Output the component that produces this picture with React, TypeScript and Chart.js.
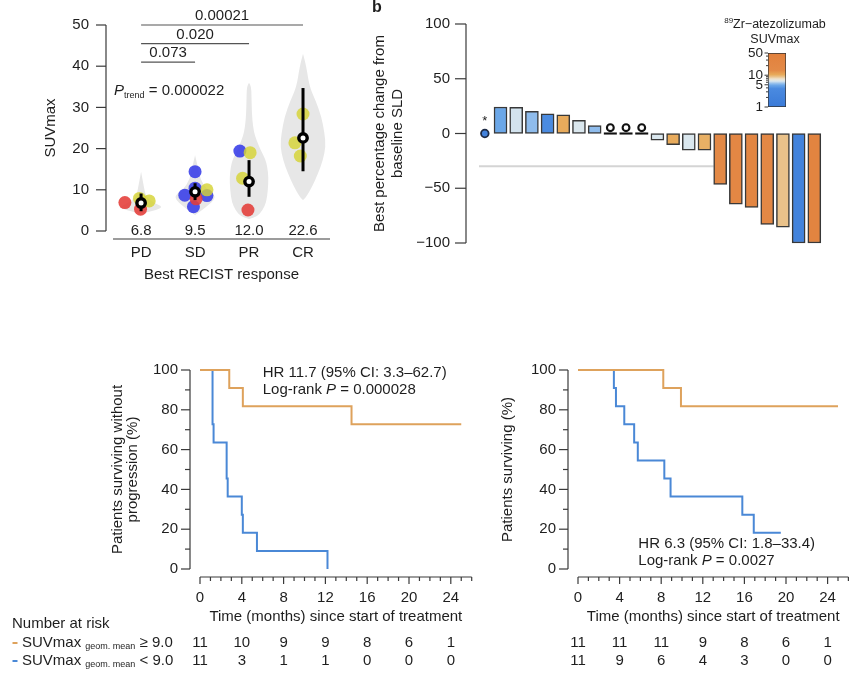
import React, { useEffect, useRef } from 'react';
import { Chart, registerables } from 'chart.js';

Chart.register(...registerables);

const FONT = '"Liberation Sans", Arial, Helvetica, sans-serif';
const INK = '#1e1e1e';
const AXIS = '#3a3a3a';
const ORANGE = '#dea25c';
const BLUE = '#4a88d6';

/* ---------------- a: SUVmax by best RECIST response ---------------- */
const responseCategories = ['PD', 'SD', 'PR', 'CR'];
const suvTicks = [0, 10, 20, 30, 40, 50];
const medianSuvmax = [6.8, 9.5, 12.0, 22.6];
const medianLow = [4.8, 7.5, 8.3, 14.5];
const medianHigh = [9.1, 11.6, 17.2, 34.7];
// lesion SUVmax, x = response group (1..4) + jitter
const redLesions = [{ x: 0.7, y: 6.9 }, { x: 0.99, y: 5.3 }, { x: 2.02, y: 7.8 }, { x: 2.98, y: 5.1 }];
const blueLesions = [{ x: 2.0, y: 14.4 }, { x: 1.81, y: 8.7 }, { x: 2.22, y: 8.6 }, { x: 2.0, y: 10.4 }, { x: 1.97, y: 5.9 }, { x: 2.83, y: 19.4 }];
const yellowLesions = [{ x: 0.97, y: 7.9 }, { x: 1.15, y: 7.3 }, { x: 2.22, y: 10.0 }, { x: 3.02, y: 19.0 }, { x: 2.88, y: 12.8 }, { x: 4.0, y: 28.4 }, { x: 3.85, y: 21.4 }, { x: 3.95, y: 18.2 }];
// violin density outlines: [SUVmax, half-width in group units]
const violinPD = [[4.3, 0], [5.1, 0.3], [5.9, 0.4], [6.7, 0.25], [8.3, 0.09], [10.8, 0.05], [14.4, 0]];
const violinSD = [[3.8, 0], [5, 0.12], [6.3, 0.25], [7.5, 0.35], [8.7, 0.37], [10, 0.22], [12.4, 0.1], [15.6, 0.05], [18.4, 0]];
const violinPR = [[2.9, 0], [3.5, 0.15], [5, 0.25], [7, 0.32], [10, 0.35], [13, 0.36], [15.5, 0.34], [17.5, 0.3], [19.5, 0.22], [22, 0.14], [24, 0.09], [27, 0.06], [30, 0.05], [33, 0.045], [35, 0.04], [36, 0]];
const violinCR = [[7.5, 0], [8.3, 0.06], [10.8, 0.17], [14, 0.28], [17.2, 0.37], [20.5, 0.42], [23.7, 0.4], [27.8, 0.34], [31.8, 0.23], [35, 0.12], [40, 0.06], [43, 0]];
const pairwiseP = [{ from: 1, to: 2, p: '0.073' }, { from: 1, to: 3, p: '0.020' }, { from: 1, to: 4, p: '0.00021' }];
const pTrend = '0.000022';

/* ---------------- b: waterfall ---------------- */
const patientChange = [0, 24.2, 24.0, 20.3, 17.9, 17.0, 12.1, 7.3, 0, 0, 0, -6.0, -10.3, -15.2, -15.2, -46.4, -64.5, -67.6, -83.0, -85.5, -100, -100];
const patientSuvmax = [2.0, 4.8, 6.4, 5.4, 3.8, 10.4, 6.5, 5.4, 0, 0, 0, 6.5, 10.4, 6.5, 10.1, 16, 21, 25, 18, 9.0, 2.2, 30];
const patientMarker = ['star', '', '', '', '', '', '', '', 'ring', 'ring', 'ring', '', '', '', '', '', '', '', '', '', '', ''];
const changeTicks = [-100, -50, 0, 50, 100];
const prThreshold = -30;
const colorbarTicks = [1, 5, 10, 50];

/* ---------------- c/d: Kaplan-Meier ---------------- */
const pfsHigh = [{ x: 0, y: 100 }, { x: 2.8, y: 90.9 }, { x: 4.1, y: 81.8 }, { x: 14.5, y: 72.7 }, { x: 25.0, y: 72.7 }];
const pfsLow = [{ x: 0, y: 100 }, { x: 1.2, y: 72.7 }, { x: 1.3, y: 63.6 }, { x: 2.55, y: 45.5 }, { x: 2.65, y: 36.4 }, { x: 4.0, y: 27.3 }, { x: 4.1, y: 18.2 }, { x: 5.45, y: 9.1 }, { x: 12.2, y: 0 }];
const osHigh = [{ x: 0, y: 100 }, { x: 8.2, y: 90.9 }, { x: 9.9, y: 81.8 }, { x: 25.0, y: 81.8 }];
const osLow = [{ x: 0, y: 100 }, { x: 3.45, y: 90.9 }, { x: 3.65, y: 81.8 }, { x: 4.45, y: 72.7 }, { x: 5.4, y: 63.6 }, { x: 5.75, y: 54.5 }, { x: 8.3, y: 45.5 }, { x: 8.9, y: 36.4 }, { x: 15.8, y: 27.3 }, { x: 16.9, y: 18.2 }, { x: 19.5, y: 18.2 }];
const riskTimes = [0, 4, 8, 12, 16, 20, 24];
const pfsRiskHigh = [11, 10, 9, 9, 8, 6, 1];
const pfsRiskLow = [11, 3, 1, 1, 0, 0, 0];
const osRiskHigh = [11, 11, 11, 9, 8, 6, 1];
const osRiskLow = [11, 9, 6, 4, 3, 0, 0];
const percentTicks = [0, 10, 20, 30, 40, 50, 60, 70, 80, 90, 100];
const monthTicks = Array.from({ length: 27 }, (_, i) => i);

/* ---------------- helpers ---------------- */
const cmapStops: [number, number[]][] = [
  [0, [58, 122, 215]], [0.34, [74, 138, 224]], [0.4, [106, 166, 232]], [0.43, [141, 187, 236]],
  [0.48, [220, 232, 238]], [0.52, [238, 226, 205]], [0.56, [234, 195, 140]], [0.6, [232, 170, 90]],
  [0.68, [227, 138, 71]], [1, [226, 128, 60]],
];
function suvFraction(v: number) {
  return Math.min(1, Math.max(0, Math.log(v) / Math.log(50)));
}
function rgb(c: number[]) { return `rgb(${c.map(Math.round).join(',')})`; }
function suvColor(v: number) {
  const f = suvFraction(v);
  for (let i = 0; i < cmapStops.length - 1; i++) {
    const [f0, c0] = cmapStops[i];
    const [f1, c1] = cmapStops[i + 1];
    if (f <= f1) {
      const t = (f - f0) / (f1 - f0);
      return rgb(c0.map((c, k) => c + (c1[k] - c) * t));
    }
  }
  return rgb(cmapStops[cmapStops.length - 1][1]);
}

function drawYAxis(ctx: any, y: any, xPix: number, ticks: number[], opt: any) {
  const { labelFn, major = () => true, majorLen = 10, minorLen = 5, gap = 4, font = `15px ${FONT}` } = opt;
  ctx.save();
  ctx.strokeStyle = AXIS;
  ctx.lineWidth = 1.2;
  ctx.beginPath();
  ctx.moveTo(xPix, y.getPixelForValue(ticks[0]));
  ctx.lineTo(xPix, y.getPixelForValue(ticks[ticks.length - 1]));
  ctx.stroke();
  ctx.font = font;
  ctx.fillStyle = INK;
  ctx.textAlign = 'right';
  ctx.textBaseline = 'middle';
  for (const t of ticks) {
    const py = y.getPixelForValue(t);
    const len = major(t) ? majorLen : minorLen;
    ctx.beginPath();
    ctx.moveTo(xPix - len, py);
    ctx.lineTo(xPix, py);
    ctx.stroke();
    const lab = labelFn(t);
    if (lab != null) ctx.fillText(lab, xPix - majorLen - gap, py);
  }
  ctx.restore();
}

function drawXAxis(ctx: any, x: any, yPix: number, ticks: number[], opt: any) {
  const { labelFn, major = () => true, majorLen = 7, minorLen = 4, labelY, font = `15px ${FONT}` } = opt;
  ctx.save();
  ctx.strokeStyle = AXIS;
  ctx.lineWidth = 1.2;
  ctx.beginPath();
  ctx.moveTo(x.getPixelForValue(ticks[0]), yPix);
  ctx.lineTo(x.getPixelForValue(ticks[ticks.length - 1]), yPix);
  ctx.stroke();
  ctx.font = font;
  ctx.fillStyle = INK;
  ctx.textAlign = 'center';
  ctx.textBaseline = 'middle';
  for (const t of ticks) {
    const px = x.getPixelForValue(t);
    const len = major(t) ? majorLen : minorLen;
    ctx.beginPath();
    ctx.moveTo(px, yPix);
    ctx.lineTo(px, yPix + len);
    ctx.stroke();
    const lab = labelFn(t);
    if (lab != null) ctx.fillText(lab, px, labelY);
  }
  ctx.restore();
}

function rotText(ctx: any, lines: string[], cx: number, cy: number, gap: number, font = `15px ${FONT}`) {
  ctx.save();
  ctx.translate(cx, cy);
  ctx.rotate(-Math.PI / 2);
  ctx.font = font;
  ctx.fillStyle = INK;
  ctx.textAlign = 'center';
  ctx.textBaseline = 'middle';
  lines.forEach((l, i) => ctx.fillText(l, 0, (i - (lines.length - 1) / 2) * gap));
  ctx.restore();
}

type Part = { text: string; size: number; italic?: boolean; bold?: boolean; dy?: number };
function drawParts(ctx: any, parts: Part[], x: number, y: number, align: 'left' | 'center' = 'left', color = INK) {
  ctx.save();
  ctx.fillStyle = color;
  ctx.textAlign = 'left';
  ctx.textBaseline = 'middle';
  const fontOf = (p: Part) => `${p.italic ? 'italic ' : ''}${p.bold ? 'bold ' : ''}${p.size}px ${FONT}`;
  const widths = parts.map((p) => { ctx.font = fontOf(p); return ctx.measureText(p.text).width; });
  const total = widths.reduce((a, b) => a + b, 0);
  let cx = align === 'center' ? x - total / 2 : x;
  parts.forEach((p, i) => {
    ctx.font = fontOf(p);
    ctx.fillText(p.text, cx, y + (p.dy || 0));
    cx += widths[i];
  });
  ctx.restore();
}

function smoothPath(ctx: any, pts: number[][]) {
  const n = pts.length;
  const mid = (a: number[], b: number[]) => [(a[0] + b[0]) / 2, (a[1] + b[1]) / 2];
  ctx.beginPath();
  const m0 = mid(pts[n - 1], pts[0]);
  ctx.moveTo(m0[0], m0[1]);
  for (let i = 0; i < n; i++) {
    const p = pts[i];
    const q = pts[(i + 1) % n];
    const mm = mid(p, q);
    ctx.quadraticCurveTo(p[0], p[1], mm[0], mm[1]);
  }
  ctx.closePath();
}

function baseOptions(padding: any) {
  return {
    animation: false,
    responsive: false,
    maintainAspectRatio: false,
    devicePixelRatio: 1,
    events: [],
    layout: { padding },
    plugins: { legend: { display: false }, tooltip: { enabled: false }, title: { display: false } },
  };
}

/* ---------------- panel a ---------------- */
const panelAPlugin = {
  id: 'panelA',
  beforeDatasetsDraw(chart: any) {
    const { ctx, scales: { x, y } } = chart;
    ctx.save();
    ctx.fillStyle = '#e7e7e7';
    [violinPD, violinSD, violinPR, violinCR].forEach((prof, i) => {
      const c = i + 1;
      const pts = [
        ...prof.map(([v, w]) => [x.getPixelForValue(c + w), y.getPixelForValue(v)]),
        ...prof.slice().reverse().map(([v, w]) => [x.getPixelForValue(c - w), y.getPixelForValue(v)]),
      ];
      smoothPath(ctx, pts);
      ctx.fill();
    });
    ctx.restore();
  },
  afterDatasetsDraw(chart: any) {
    const { ctx, scales: { x, y }, chartArea: ca } = chart;
    ctx.save();
    ctx.strokeStyle = '#000';
    ctx.lineWidth = 3;
    medianSuvmax.forEach((m, i) => {
      const px = x.getPixelForValue(i + 1);
      ctx.beginPath();
      ctx.moveTo(px, y.getPixelForValue(medianLow[i]));
      ctx.lineTo(px, y.getPixelForValue(medianHigh[i]));
      ctx.stroke();
    });
    medianSuvmax.forEach((m, i) => {
      const px = x.getPixelForValue(i + 1);
      const py = y.getPixelForValue(m);
      ctx.beginPath();
      ctx.arc(px, py, 4.2, 0, Math.PI * 2);
      ctx.fillStyle = '#fff';
      ctx.fill();
      ctx.lineWidth = 3.4;
      ctx.strokeStyle = '#000';
      ctx.stroke();
    });
    ctx.restore();

    drawYAxis(ctx, y, ca.left, suvTicks, { labelFn: (v: number) => String(v), majorLen: 10, gap: 7 });

    const x0 = x.getPixelForValue(0.48);
    ctx.save();
    ctx.strokeStyle = AXIS;
    ctx.lineWidth = 1.2;
    ctx.beginPath();
    ctx.moveTo(x0, ca.bottom + 8);
    ctx.lineTo(ca.right, ca.bottom + 8);
    ctx.stroke();
    ctx.font = `15px ${FONT}`;
    ctx.fillStyle = INK;
    ctx.textAlign = 'center';
    ctx.textBaseline = 'middle';
    responseCategories.forEach((c, i) => {
      const px = x.getPixelForValue(i + 1);
      ctx.fillText(c, px, ca.bottom + 22);
      ctx.fillText(medianSuvmax[i].toFixed(1), px, y.getPixelForValue(0));
    });
    ctx.fillText('Best RECIST response', (x0 + ca.right) / 2, ca.bottom + 44);

    // pairwise comparison brackets
    pairwiseP.forEach((c, k) => {
      const py = y.getPixelForValue(41 + k * 4.5);
      const a = x.getPixelForValue(c.from);
      const b = x.getPixelForValue(c.to);
      ctx.strokeStyle = '#555';
      ctx.lineWidth = 1.2;
      ctx.beginPath();
      ctx.moveTo(a, py);
      ctx.lineTo(b, py);
      ctx.stroke();
      ctx.fillText(c.p, (a + b) / 2, py - 9);
    });
    ctx.restore();

    rotText(ctx, ['SUVmax'], 51, (ca.top + ca.bottom) / 2, 0);
    drawParts(ctx, [
      { text: 'P', size: 15, italic: true },
      { text: 'trend', size: 9, dy: 5 },
      { text: ' = ' + pTrend, size: 15 },
    ], x.getPixelForValue(0.5), y.getPixelForValue(34));
  },
};

function makePanelA() {
  return {
    type: 'scatter',
    data: {
      datasets: [
        { data: yellowLesions, backgroundColor: 'rgba(214,211,52,0.82)', pointRadius: 6.5, borderWidth: 0, clip: false },
        { data: redLesions, backgroundColor: 'rgba(228,60,56,0.88)', pointRadius: 6.5, borderWidth: 0, clip: false },
        { data: blueLesions, backgroundColor: 'rgba(50,56,232,0.86)', pointRadius: 6.5, borderWidth: 0, clip: false },
      ],
    },
    options: {
      ...baseOptions({ left: 106, right: 15, top: 25, bottom: 59 }),
      scales: {
        x: { type: 'linear', min: 0.35, max: 4.5, display: false },
        y: { type: 'linear', min: 0, max: 50, display: false },
      },
    },
    plugins: [panelAPlugin],
  };
}

/* ---------------- panel b ---------------- */
const waterfallPlugin = {
  id: 'waterfall',
  beforeDatasetsDraw(chart: any) {
    const { ctx, scales: { x, y }, chartArea: ca } = chart;
    const firstIdx = patientChange.findIndex((v) => v <= prThreshold);
    const xEnd = x.getPixelForValue(firstIdx + 1) - 6.5;
    ctx.save();
    ctx.strokeStyle = '#d4d4d4';
    ctx.lineWidth = 2;
    ctx.beginPath();
    ctx.moveTo(ca.left + 13, y.getPixelForValue(prThreshold));
    ctx.lineTo(xEnd, y.getPixelForValue(prThreshold));
    ctx.stroke();
    ctx.restore();
  },
  afterDatasetsDraw(chart: any) {
    const { ctx, scales: { x, y }, chartArea: ca } = chart;
    const y0 = y.getPixelForValue(0);
    ctx.save();
    patientMarker.forEach((m, i) => {
      const px = x.getPixelForValue(i + 1);
      if (m === 'star') {
        ctx.beginPath();
        ctx.arc(px, y0, 3.8, 0, Math.PI * 2);
        ctx.fillStyle = suvColor(patientSuvmax[i]);
        ctx.fill();
        ctx.lineWidth = 1.8;
        ctx.strokeStyle = '#1d2a44';
        ctx.stroke();
        ctx.font = `13px ${FONT}`;
        ctx.fillStyle = INK;
        ctx.textAlign = 'center';
        ctx.textBaseline = 'alphabetic';
        ctx.fillText('*', px, y0 - 9);
      } else if (m === 'ring') {
        ctx.strokeStyle = '#111';
        ctx.lineWidth = 2.1;
        ctx.beginPath();
        ctx.moveTo(px - 6.5, y0);
        ctx.lineTo(px + 6.5, y0);
        ctx.stroke();
        ctx.beginPath();
        ctx.arc(px, y0 - 5.8, 3.4, 0, Math.PI * 2);
        ctx.fillStyle = '#fff';
        ctx.fill();
        ctx.stroke();
      }
    });
    ctx.restore();

    drawYAxis(ctx, y, ca.left, changeTicks, {
      labelFn: (v: number) => (v < 0 ? '\u2212' + Math.abs(v) : String(v)),
      majorLen: 11,
      gap: 5,
    });
    rotText(ctx, ['Best percentage change from', 'baseline SLD'], ca.left - 77, (ca.top + ca.bottom) / 2, 18);
    drawParts(ctx, [{ text: 'b', size: 16, bold: true }], ca.left - 94, 8);
  },
};

function makePanelB() {
  const idx = patientChange.map((_, i) => i).filter((i) => patientMarker[i] === '');
  return {
    type: 'bar',
    data: {
      datasets: [
        {
          data: idx.map((i) => ({ x: i + 1, y: patientChange[i] })),
          backgroundColor: idx.map((i) => suvColor(patientSuvmax[i])),
          borderColor: '#383838',
          borderWidth: 1.5,
          borderSkipped: false,
          barThickness: 13,
          clip: false,
        },
      ],
    },
    options: {
      ...baseOptions({ left: 106, right: 35, top: 24, bottom: 27 }),
      scales: {
        x: { type: 'linear', min: -0.2, max: 23, offset: false, display: false, grid: { offset: false } },
        y: { type: 'linear', min: -100, max: 100, display: false },
      },
    },
    plugins: [waterfallPlugin],
  };
}

/* ---------------- colorbar ---------------- */
const colorbarPlugin = {
  id: 'colorbar',
  afterDatasetsDraw(chart: any) {
    const { ctx, scales: { y }, chartArea: ca } = chart;
    ctx.save();
    ctx.strokeStyle = AXIS;
    ctx.lineWidth = 1;
    const all = [1, 2, 3, 4, 5, 6, 7, 8, 9, 10, 20, 30, 40, 50];
    all.forEach((v) => {
      const py = y.getPixelForValue(v);
      const len = colorbarTicks.includes(v) ? 3.5 : 2;
      ctx.beginPath();
      ctx.moveTo(ca.left - len, py);
      ctx.lineTo(ca.left, py);
      ctx.stroke();
    });
    ctx.font = `13.5px ${FONT}`;
    ctx.fillStyle = INK;
    ctx.textAlign = 'right';
    ctx.textBaseline = 'middle';
    colorbarTicks.forEach((v) => ctx.fillText(String(v), ca.left - 5, y.getPixelForValue(v)));
    ctx.restore();
    const cx = (ca.left + ca.right) / 2 - 2;
    drawParts(ctx, [
      { text: '89', size: 8, dy: -4 },
      { text: 'Zr\u2212atezolizumab', size: 12.5 },
    ], cx, ca.top - 28, 'center');
    drawParts(ctx, [{ text: 'SUVmax', size: 12.5 }], cx, ca.top - 13, 'center');
  },
};

function makeColorbar() {
  return {
    type: 'bar',
    data: {
      labels: ['SUVmax'],
      datasets: [
        {
          data: [[colorbarTicks[0], colorbarTicks[colorbarTicks.length - 1]]],
          backgroundColor: (c: any) => {
            const { chart } = c;
            const ys = chart.scales && chart.scales.y;
            if (!chart.chartArea || !ys) return suvColor(10);
            const g = chart.ctx.createLinearGradient(0, ys.getPixelForValue(1), 0, ys.getPixelForValue(50));
            cmapStops.forEach(([f, col]) => g.addColorStop(f, rgb(col)));
            return g;
          },
          borderColor: '#333',
          borderWidth: 1,
          borderSkipped: false,
          barPercentage: 1,
          categoryPercentage: 1,
        },
      ],
    },
    options: {
      ...baseOptions({ left: 68, right: 54, top: 43, bottom: 13 }),
      scales: {
        x: { display: false },
        y: { type: 'logarithmic', min: 1, max: 50, display: false },
      },
    },
    plugins: [colorbarPlugin],
  };
}

/* ---------------- KM panels ---------------- */
function kmPlugin(opt: any) {
  return {
    id: 'km',
    afterDatasetsDraw(chart: any) {
      const { ctx, scales: { x, y }, chartArea: ca } = chart;
      drawYAxis(ctx, y, ca.left - 10, percentTicks, {
        labelFn: (v: number) => (v % 20 === 0 ? String(v) : null),
        major: (v: number) => v % 20 === 0,
        majorLen: 9,
        minorLen: 5,
        gap: 3,
      });
      drawXAxis(ctx, x, ca.bottom + 8, monthTicks, {
        labelFn: (v: number) => (v % 4 === 0 ? String(v) : null),
        major: (v: number) => v % 4 === 0,
        majorLen: 7,
        minorLen: 4,
        labelY: ca.bottom + 29,
      });
      const xc = (x.getPixelForValue(monthTicks[0]) + x.getPixelForValue(monthTicks[monthTicks.length - 1])) / 2;
      drawParts(ctx, [{ text: 'Time (months) since start of treatment', size: 15 }], xc, ca.bottom + 48, 'center');
      rotText(ctx, opt.yTitle, ca.left - opt.titleDx, (ca.top + ca.bottom) / 2, 15);

      const ax = x.getPixelForValue(opt.annot.x);
      const ay = y.getPixelForValue(opt.annot.y);
      drawParts(ctx, [{ text: opt.annot.hr, size: 15 }], ax, ay);
      drawParts(ctx, [
        { text: 'Log-rank ', size: 15 },
        { text: 'P', size: 15, italic: true },
        { text: ' = ' + opt.annot.p, size: 15 },
      ], ax, ay + 17);

      ctx.save();
      ctx.font = `15px ${FONT}`;
      ctx.fillStyle = INK;
      ctx.textAlign = 'center';
      ctx.textBaseline = 'middle';
      riskTimes.forEach((t, k) => {
        const px = x.getPixelForValue(t);
        ctx.fillText(String(opt.riskHigh[k]), px, ca.bottom + 74);
        ctx.fillText(String(opt.riskLow[k]), px, ca.bottom + 92);
      });
      ctx.restore();

      if (opt.riskLabels) {
        drawParts(ctx, [{ text: 'Number at risk', size: 15 }], 12, ca.bottom + 55);
        [
          { color: ORANGE, sign: '\u2265 9.0', dy: 74 },
          { color: BLUE, sign: '< 9.0', dy: 92 },
        ].forEach((r) => {
          const ry = ca.bottom + r.dy;
          ctx.save();
          ctx.strokeStyle = r.color;
          ctx.lineWidth = 2;
          ctx.beginPath();
          ctx.moveTo(12.5, ry);
          ctx.lineTo(17.5, ry);
          ctx.stroke();
          ctx.restore();
          drawParts(ctx, [
            { text: 'SUVmax ', size: 15 },
            { text: 'geom. mean', size: 9, dy: 4 },
            { text: ' ' + r.sign, size: 15 },
          ], 22, ry);
        });
      }
    },
  };
}

function kmDataset(data: any[], color: string) {
  return {
    data,
    borderColor: color,
    borderWidth: 2,
    stepped: 'before',
    pointRadius: 0,
    fill: false,
    tension: 0,
    clip: false,
  };
}

function makeKM(high: any[], low: any[], padding: any, plug: any) {
  return {
    type: 'line',
    data: { datasets: [kmDataset(high, ORANGE), kmDataset(low, BLUE)] },
    options: {
      ...baseOptions(padding),
      scales: {
        x: { type: 'linear', min: 0, max: 26, display: false },
        y: { type: 'linear', min: 0, max: 100, display: false },
      },
    },
    plugins: [plug],
  };
}

function makePanelC() {
  return makeKM(pfsHigh, pfsLow, { left: 200, right: 18.3, top: 40, bottom: 122 }, kmPlugin({
    yTitle: ['Patients surviving without', 'progression (%)'],
    titleDx: 75,
    annot: { x: 6.0, y: 98.5, hr: 'HR 11.7 (95% CI: 3.3\u201362.7)', p: '0.000028' },
    riskHigh: pfsRiskHigh,
    riskLow: pfsRiskLow,
    riskLabels: true,
  }));
}

function makePanelD() {
  return makeKM(osHigh, osLow, { left: 88, right: 16.6, top: 40, bottom: 122 }, kmPlugin({
    yTitle: ['Patients surviving (%)'],
    titleDx: 70,
    annot: { x: 5.8, y: 12.5, hr: 'HR 6.3 (95% CI: 1.8\u201333.4)', p: '0.0027' },
    riskHigh: osRiskHigh,
    riskLow: osRiskLow,
    riskLabels: false,
  }));
}

/* ---------------- components ---------------- */
function Panel({ left, top, width, height, make }: any) {
  const ref = useRef<HTMLCanvasElement>(null);
  useEffect(() => {
    const chart = new Chart(ref.current as HTMLCanvasElement, make());
    return () => chart.destroy();
  }, []);
  return (
    <canvas
      ref={ref}
      width={width}
      height={height}
      style={{ position: 'absolute', left, top, width, height }}
    />
  );
}

export default function App() {
  return (
    <div style={{ position: 'fixed', left: 0, top: 0, width: 865, height: 691, background: '#fff', overflow: 'hidden' }}>
      <Panel left={0} top={0} width={345} height={290} make={makePanelA} />
      <Panel left={360} top={0} width={505} height={270} make={makePanelB} />
      <Panel left={700} top={10} width={140} height={110} make={makeColorbar} />
      <Panel left={0} top={330} width={490} height={361} make={makePanelC} />
      <Panel left={490} top={330} width={375} height={361} make={makePanelD} />
    </div>
  );
}
